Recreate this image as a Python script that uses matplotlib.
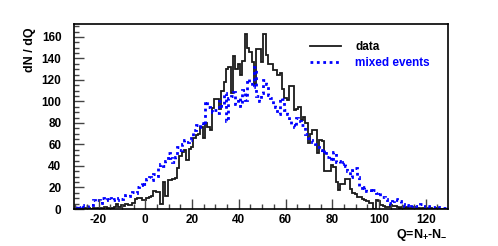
import numpy as np
import matplotlib
matplotlib.use("Agg")
import matplotlib.pyplot as plt
from matplotlib.ticker import MultipleLocator

plt.rcParams['font.family'] = ['Liberation Sans', 'DejaVu Sans']
plt.rcParams['font.weight'] = 'bold'
plt.rcParams['axes.unicode_minus'] = False
plt.rcParams['mathtext.fontset'] = 'custom'
plt.rcParams['mathtext.rm'] = 'Liberation Sans:bold'
plt.rcParams['mathtext.it'] = 'Liberation Sans:bold'
plt.rcParams['mathtext.bf'] = 'Liberation Sans:bold'

q_min, q_max = -30.5, 129.5  # histogram range, bin width 1

data = [
    0, 1, 0, 0, 1, 0, 1, 0, 1, 0,            # -30..-21
    1, 1, 0, 2, 1, 1, 1, 2, 5, 2,            # -20..-11
    4, 3, 5, 4, 4, 6, 9, 10, 10, 8,          # -10..-1
    8, 10, 11, 12, 17, 16, 16, 5, 25, 12,    # 0..9
    27, 27, 28, 29, 38, 49, 53, 55, 46, 56,  # 10..19
    58, 66, 69, 70, 76, 66, 80, 76, 73, 94,  # 20..29
    102, 102, 93, 110, 118, 130, 132, 108, 142, 130,  # 30..39
    135, 125, 138, 163, 150, 146, 137, 116, 149, 149,  # 40..49
    137, 163, 143, 135, 135, 129, 129, 125, 126, 112,  # 50..59
    103, 101, 114, 114, 92, 93, 95, 83, 86, 80,        # 60..69
    61, 70, 73, 73, 52, 64, 63, 35, 35, 35,            # 70..79
    41, 39, 25, 18, 23, 23, 28, 28, 19, 15,            # 80..89
    14, 11, 11, 9, 8, 7, 6, 6, 0, 8,                   # 90..99
    7, 4, 3, 2, 2, 4, 3, 3, 2, 1,                      # 100..109
    2, 1, 2, 1, 1, 2, 1, 1, 0, 1,                      # 110..119
    1, 0, 1, 0, 0, 1, 0, 0, 0, 0,                      # 120..129
]

mixed = [
    2, 3, 2, 4, 2, 3, 4, 4, 8, 7,            # -30..-21
    8, 6, 10, 8, 11, 10, 8, 9, 8, 10,        # -20..-11
    9, 10, 13, 12, 14, 16, 15, 20, 22, 25,   # -10..-1
    23, 28, 30, 27, 33, 31, 38, 42, 40, 45,  # 0..9
    52, 47, 44, 48, 58, 55, 60, 64, 62, 64,  # 10..19
    66, 73, 78, 76, 80, 78, 100, 95, 93, 90, # 20..29
    92, 89, 100, 96, 108, 82, 103, 105, 109, 98,   # 30..39
    103, 96, 111, 101, 121, 118, 113, 132, 105, 100,  # 40..49
    108, 120, 116, 106, 103, 98, 95, 88, 103, 102,    # 50..59
    92, 88, 82, 78, 76, 85, 82, 78, 78, 70,           # 60..69
    66, 64, 62, 60, 58, 55, 52, 55, 48, 49,           # 70..79
    45, 53, 44, 45, 42, 44, 40, 35, 30, 36,           # 80..89
    38, 30, 21, 18, 20, 17, 18, 16, 18, 15,           # 90..99
    16, 11, 11, 9, 6, 5, 7, 9, 8, 7,                  # 100..109
    5, 3, 4, 2, 3, 4, 3, 4, 5, 3,                     # 110..119
    2, 3, 2, 2, 1, 2, 1, 1, 1, 1,                     # 120..129
]

x_ticks = [-20, 0, 20, 40, 60, 80, 100, 120]
y_ticks = [0, 20, 40, 60, 80, 100, 120, 140, 160]

edges = np.linspace(q_min, q_max, len(data) + 1)

fig = plt.figure(figsize=(4.98, 2.46), dpi=100)
ax = fig.add_axes([74/498, 37/246, 374/498, 185/246])

ax.stairs(data, edges, color='#1a1a1a', lw=1.3, baseline=None, label='data')
ax.stairs(mixed, edges, color='#0000ff', lw=2.0, linestyle=(0, (1, 1.3)),
          baseline=None, label='mixed events')

ax.set_xlim(q_min, q_max)
ax.set_ylim(0, 172)
ax.set_xticks(x_ticks)
ax.set_yticks(y_ticks)
ax.xaxis.set_minor_locator(MultipleLocator(5))
ax.yaxis.set_minor_locator(MultipleLocator(5))
ax.tick_params(which='both', direction='in', top=False, right=False, color='#444444')
ax.tick_params(which='major', length=7, width=1)
ax.tick_params(which='minor', length=3.5, width=1)
ax.tick_params(axis='y', which='major', pad=9, labelsize=8.5)
ax.tick_params(axis='x', which='major', pad=3.5, labelsize=8.5)
for lab in ax.get_xticklabels() + ax.get_yticklabels():
    lab.set_fontweight('bold')
for s in ax.spines.values():
    s.set_linewidth(1.2)
    s.set_color('black')

ax.text(-0.118, 0.98, 'dN / dQ', transform=ax.transAxes, rotation=90,
        ha='center', va='top', fontsize=9, fontweight='bold')
ax.text(1.0, -0.095, r'Q=N$_{+}$-N$_{-}$', transform=ax.transAxes,
        ha='right', va='top', fontsize=9, fontweight='bold')

leg = ax.legend(loc='upper right', bbox_to_anchor=(0.98, 0.965), frameon=False,
                handlelength=2.6, handletextpad=1.2,
                labelspacing=0.3, prop={'weight': 'bold', 'size': 8.5})
for t, c in zip(leg.get_texts(), ['black', '#0000ff']):
    t.set_color(c)

fig.savefig('out.png', dpi=100)
